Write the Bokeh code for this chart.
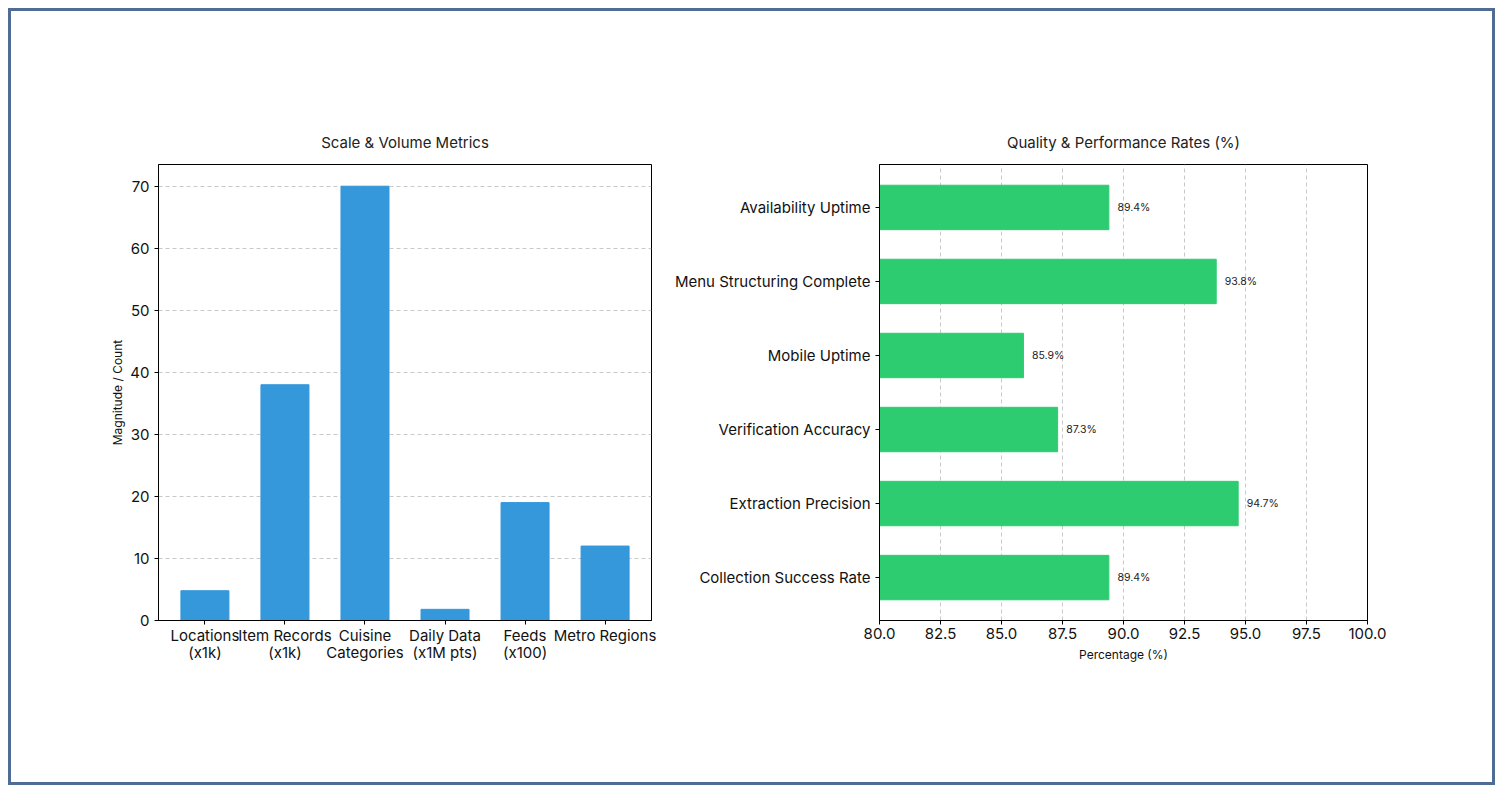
from bokeh.plotting import figure
from bokeh.layouts import row
from bokeh.models import ColumnDataSource, FixedTicker, NumeralTickFormatter, Range1d
from bokeh.core.properties import value
from bokeh.embed import file_html
from bokeh.resources import INLINE

# ---- data ----
scale_labels = ["Locations\n(x1k)", "Item Records\n(x1k)", "Cuisine\nCategories",
                "Daily Data\n(x1M pts)", "Feeds\n(x100)", "Metro Regions"]
scale_values = [4.8, 38, 70, 1.8, 19, 12]

rate_labels = ["Collection Success Rate", "Extraction Precision", "Verification Accuracy",
               "Mobile Uptime", "Menu Structuring Complete", "Availability Uptime"]
rate_values = [89.4, 94.7, 87.3, 85.9, 93.8, 89.4]

FONT = "Inter"
BLUE = "#3498db"
GREEN = "#2ecc71"


def style(p):
    p.outline_line_color = "black"
    p.outline_line_width = 1
    p.background_fill_color = "white"
    p.border_fill_color = "white"
    p.title.text_font = FONT
    p.title.text_font_size = "15px"
    p.title.text_font_style = "normal"
    p.title.text_color = "#222222"
    p.title.align = "center"
    p.title.standoff = 25
    for ax in p.axis:
        ax.axis_line_color = "black"
        ax.major_tick_line_color = "black"
        ax.major_tick_out = 4
        ax.major_tick_in = 0
        ax.minor_tick_line_color = None
        ax.major_label_text_font = FONT
        ax.major_label_text_font_size = "15px"
        ax.major_label_text_color = "#111111"
        ax.axis_label_text_font = FONT
        ax.axis_label_text_font_size = "12px"
        ax.axis_label_text_font_style = "normal"
        ax.axis_label_text_color = "#111111"


# ---- left: vertical bars ----
xs = list(range(len(scale_values)))
src1 = ColumnDataSource(dict(x=xs, top=scale_values))
p1 = figure(width=660, height=771, output_backend="svg", toolbar_location=None,
            title="Scale & Volume Metrics",
            x_range=Range1d(-0.58, 5.58), y_range=Range1d(0, 73.5),
            min_border_left=147, min_border_right=20, min_border_top=153, min_border_bottom=162)
p1.vbar(x="x", top="top", width=0.6, bottom=0, source=src1, fill_color=BLUE, line_color=BLUE)
p1.xaxis.ticker = FixedTicker(ticks=xs)
p1.xaxis.major_label_overrides = {i: lab for i, lab in enumerate(scale_labels)}
p1.yaxis.ticker = FixedTicker(ticks=[0, 10, 20, 30, 40, 50, 60, 70])
p1.yaxis.axis_label = "Magnitude / Count"
p1.xgrid.grid_line_color = None
p1.ygrid.grid_line_color = "#bbbbbb"
p1.ygrid.grid_line_dash = "4 3"
p1.ygrid.grid_line_alpha = 0.8
style(p1)
p1.xaxis.major_label_standoff = 1
p1.xaxis.major_label_text_line_height = 0.9
p1.yaxis.axis_label_standoff = 2

# ---- right: horizontal bars ----
ys = list(range(len(rate_values)))
src2 = ColumnDataSource(dict(y=ys, right=rate_values,
                             tx=[v + 0.35 for v in rate_values],
                             lab=[f"{v:.1f}%" for v in rate_values]))
p2 = figure(width=821, height=771, output_backend="svg", toolbar_location=None,
            title="Quality & Performance Rates (%)",
            x_range=Range1d(80, 100), y_range=Range1d(-0.58, 5.58),
            min_border_left=204, min_border_right=125, min_border_top=153, min_border_bottom=162)
p2.hbar(y="y", right="right", left=80, height=0.6, source=src2, fill_color=GREEN, line_color=GREEN)
p2.text(x="tx", y="y", text="lab", source=src2, text_font=value(FONT), text_font_size="10.5px",
        text_baseline="middle", text_align="left", text_color="#222222")
p2.yaxis.ticker = FixedTicker(ticks=ys)
p2.yaxis.major_label_overrides = {i: lab for i, lab in enumerate(rate_labels)}
p2.xaxis.ticker = FixedTicker(ticks=[80, 82.5, 85, 87.5, 90, 92.5, 95, 97.5, 100])
p2.xaxis.formatter = NumeralTickFormatter(format="0.0")
p2.xaxis.axis_label = "Percentage (%)"
p2.ygrid.grid_line_color = None
p2.xgrid.grid_line_color = "#bbbbbb"
p2.xgrid.grid_line_dash = "4 3"
p2.xgrid.grid_line_alpha = 0.8
style(p2)
p2.xaxis.major_label_standoff = 3

layout = row(p1, p2, styles={"border": "3px solid #4f6d94", "margin-left": "8px",
                             "margin-top": "8px", "background-color": "white"})

open("out.html", "w").write(file_html(layout, INLINE))
